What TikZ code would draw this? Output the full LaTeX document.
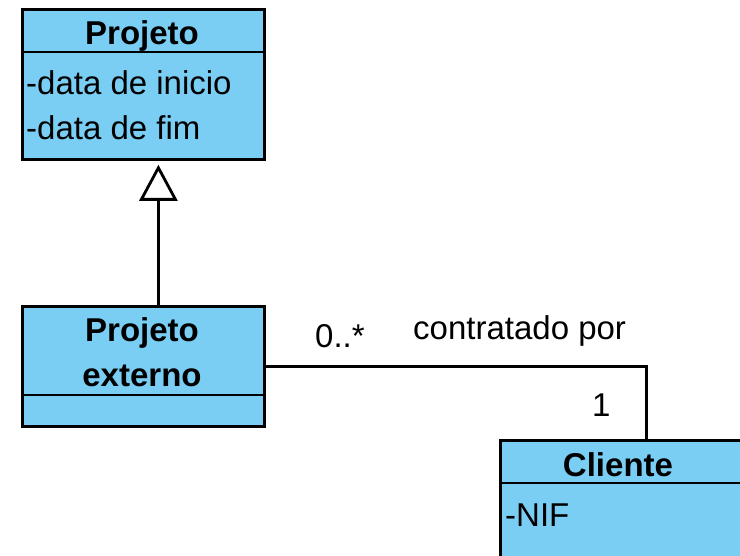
\documentclass[tikz,border=0pt]{standalone}
\usepackage{fontspec}
\setmainfont{Liberation Sans}
\usetikzlibrary{arrows.meta}
\definecolor{umlblue}{HTML}{7ACEF4}
\tikzset{
  umlbox/.style={draw=black, line width=2.8pt, fill=umlblue, inner sep=0pt, anchor=north west},
  divider/.style={line width=2.8pt},
  conn/.style={line width=2.8pt},
  titletext/.style={font=\fontsize{33}{40}\selectfont\bfseries, inner sep=0pt, anchor=base},
  attrtext/.style={font=\fontsize{33}{40}\selectfont, inner sep=0pt, anchor=base west},
  labeltext/.style={font=\fontsize{33}{40}\selectfont, inner sep=0pt, anchor=base west},
}
\begin{document}
\begin{tikzpicture}[x=1pt,y=-1pt]
\useasboundingbox (0,0) rectangle (740,556);
\clip (0,0) rectangle (740,556);
% Projeto
\node[umlbox, minimum width=242pt, minimum height=150pt] (proj) at (21,8) {};
\draw[divider] (21,52) -- (263,52);
\node[titletext] (projT) at (142,45) {Projeto};
\node[attrtext] (projA1) at (26,95) {-data de inicio};
\node[attrtext] (projA2) at (26,140) {-data de fim};
% Projeto externo
\node[umlbox, minimum width=242pt, minimum height=120pt] (pe) at (21,305) {};
\draw[divider] (21,395) -- (263,395);
\node[titletext] (peT1) at (142,342) {Projeto};
\node[titletext] (peT2) at (142,387) {externo};
% Cliente
\node[umlbox, minimum width=292pt, minimum height=160pt] (cli) at (499,439) {};
\draw[divider] (499,483) -- (791,483);
\node[titletext] (cliT) at (618,476) {Cliente};
\node[attrtext] (cliA1) at (505,526) {-NIF};
% generalization
\draw[conn, shorten >=4pt, -{Triangle[open, length=36pt, width=38pt, line join=miter, fill=white]}] ([xshift=15pt]pe.north) -- ([xshift=15pt]proj.south);
% association
\draw[conn] (pe.east) -| (cli.north);
\node[labeltext] (mult1) at (315,348) {0..*};
\node[labeltext] (assoc) at (413,340) {contratado por};
\node[labeltext] (mult2) at (592,417) {1};
\end{tikzpicture}
\end{document}
